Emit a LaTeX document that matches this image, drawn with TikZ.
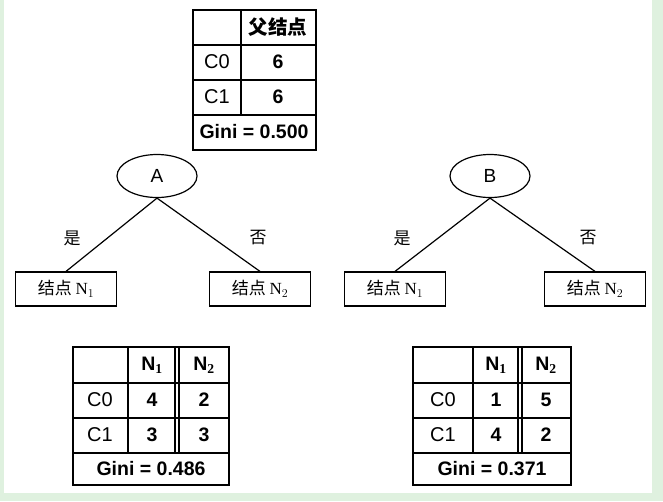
\documentclass[tikz,border=0pt]{standalone}
\usepackage{fontspec}
\setmainfont{Liberation Serif}
\setsansfont{Liberation Sans}
\newfontfamily\cjk{Noto Sans CJK SC}
\begin{document}
\begin{tikzpicture}[x=1pt,y=-1pt,
  tb/.style={font=\sffamily\bfseries\fontsize{19.5}{20}\selectfont},
  tn/.style={font=\sffamily\fontsize{20}{20}\selectfont},
  box/.style={draw,line width=1.2pt,minimum width=101pt,minimum height=34pt,font=\fontsize{17}{17}\selectfont},
  ell/.style={draw,line width=1.2pt,ellipse,minimum width=80pt,minimum height=43pt,font=\sffamily\fontsize{19}{19}\selectfont},
  lbl/.style={font=\cjk\fontsize{17}{17}\selectfont},
  ln/.style={line width=1.2pt}]
\usetikzlibrary{shapes.geometric}
\useasboundingbox (0,0) rectangle (663,501);
\fill[green!40!gray!18] (0,0) rectangle (663,501);
\fill[white] (4,0) rectangle (652,493);
% top table
\draw[ln] (193,10) rectangle (316,150);
\foreach \y in {45,80,115} \draw[ln] (193,\y) -- (316,\y);
\draw[ln] (241,10) -- (241,115);
\node[tb] (h) at (278,27) {\cjk 父结点};
\node[tn] (c0) at (217,62) {C0};
\node[tn] (c1) at (217,97) {C1};
\node[tb] (v0) at (278,62) {6};
\node[tb] (v1) at (278,97) {6};
\node[tb] (g) at (254,132) {Gini = 0.500};
% tree A
\node[ell] (A) at (157,176) {A};
\node[box] (AN1) at (66,289) {\cjk 结点 \rmfamily N$_{\scriptstyle 1}$};
\node[box] (AN2) at (260,289) {\cjk 结点 \rmfamily N$_{\scriptstyle 2}$};
\draw[ln] (A.south) -- (AN1.north);
\draw[ln] (A.south) -- (AN2.north);
\node[lbl] (ay) at (72,238) {是};
\node[lbl] (an) at (258,238) {否};
% tree B
\node[ell] (B) at (490,176) {B};
\node[box] (BN1) at (395,289) {\cjk 结点 \rmfamily N$_{\scriptstyle 1}$};
\node[box] (BN2) at (595,289) {\cjk 结点 \rmfamily N$_{\scriptstyle 2}$};
\draw[ln] (B.south) -- (BN1.north);
\draw[ln] (B.south) -- (BN2.north);
\node[lbl] (by) at (402,238) {是};
\node[lbl] (bn) at (588,238) {否};
% bottom left table
\draw[ln] (73,347) rectangle (229,485);
\foreach \y in {383,418,453} \draw[ln] (73,\y) -- (229,\y);
\draw[ln] (128,347) -- (128,453);
\draw[ln] (175,347) -- (175,453);
\draw[ln] (179,347) -- (179,453);
\node[tb] (l1) at (152,365) {N$_{\mathbf 1}$};
\node[tb] (l2) at (204,365) {N$_{\mathbf 2}$};
\node[tn] (l3) at (100,400) {C0};
\node[tn] (l4) at (100,435) {C1};
\node[tb] (l5) at (152,400) {4};
\node[tb] (l6) at (204,400) {2};
\node[tb] (l7) at (152,435) {3};
\node[tb] (l8) at (204,435) {3};
\node[tb] (l9) at (151,469) {Gini = 0.486};
% bottom right table
\draw[ln] (413,347) rectangle (571,485);
\foreach \y in {383,418,453} \draw[ln] (413,\y) -- (571,\y);
\draw[ln] (473,347) -- (473,453);
\draw[ln] (518,347) -- (518,453);
\draw[ln] (522,347) -- (522,453);
\node[tb] (r1) at (496,365) {N$_{\mathbf 1}$};
\node[tb] (r2) at (546,365) {N$_{\mathbf 2}$};
\node[tn] (r3) at (443,400) {C0};
\node[tn] (r4) at (443,435) {C1};
\node[tb] (r5) at (496,400) {1};
\node[tb] (r6) at (546,400) {5};
\node[tb] (r7) at (496,435) {4};
\node[tb] (r8) at (546,435) {2};
\node[tb] (r9) at (492,469) {Gini = 0.371};
\end{tikzpicture}
\end{document}
